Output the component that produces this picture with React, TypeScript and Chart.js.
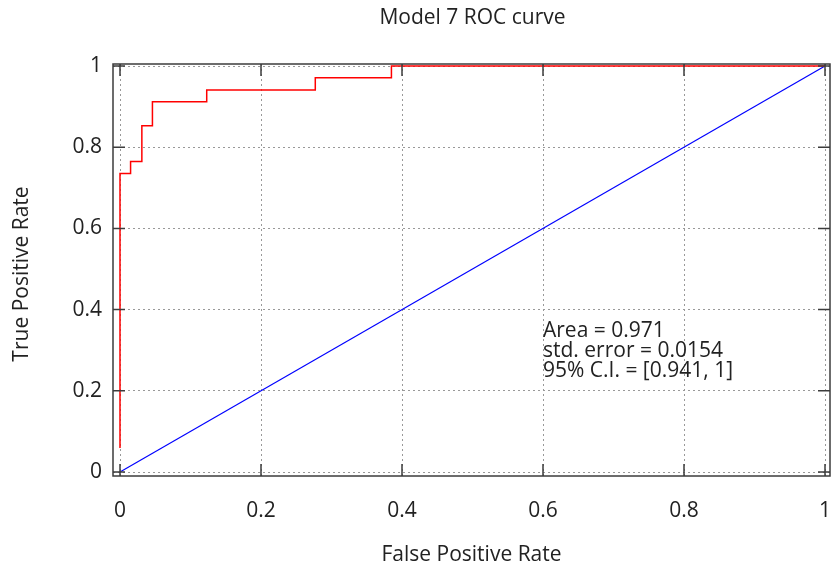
import React, { useEffect, useRef } from 'react';
import { Chart, registerables } from 'chart.js';

Chart.register(...registerables);

const chartTitle = 'Model 7 ROC curve';
const xAxisTitle = 'False Positive Rate';
const yAxisTitle = 'True Positive Rate';
const tickValues = [0, 0.2, 0.4, 0.6, 0.8, 1];
const tickLabels = ['0', '0.2', '0.4', '0.6', '0.8', '1'];
const rocFpr = [0, 0, 0.015, 0.015, 0.031, 0.031, 0.046, 0.046, 0.123, 0.123, 0.277, 0.277, 0.385, 0.385, 1];
const rocTpr = [0.059, 0.735, 0.735, 0.765, 0.765, 0.853, 0.853, 0.912, 0.912, 0.941, 0.941, 0.971, 0.971, 1, 1];
const diagFpr = [0, 1];
const diagTpr = [0, 1];
const annotationLines = ['Area = 0.971', 'std. error = 0.0154', '95% C.I. = [0.941, 1]'];
const annotationAt = { x: 0.6, y: 0.333 };

const FONT = '"Open Sans", sans-serif';
const TEXT_COLOR = '#222';

const framePlugin = {
  id: 'frame',
  afterDatasetsDraw(chart: any) {
    const { ctx, chartArea: a, scales } = chart;
    ctx.save();
    ctx.strokeStyle = '#3c3c3c';
    ctx.lineWidth = 1.5;
    ctx.strokeRect(a.left, a.top, a.right - a.left, a.bottom - a.top);
    ctx.beginPath();
    tickValues.forEach((v) => {
      const x = scales.x.getPixelForValue(v);
      ctx.moveTo(x, a.bottom);
      ctx.lineTo(x, a.bottom - 12);
      ctx.moveTo(x, a.top);
      ctx.lineTo(x, a.top + 12);
      const y = scales.y.getPixelForValue(v);
      ctx.moveTo(a.left, y);
      ctx.lineTo(a.left + 12, y);
      ctx.moveTo(a.right, y);
      ctx.lineTo(a.right - 12, y);
    });
    ctx.stroke();

    ctx.fillStyle = TEXT_COLOR;
    ctx.font = `21px ${FONT}`;
    ctx.textAlign = 'center';
    ctx.textBaseline = 'alphabetic';
    const cx = (a.left + a.right) / 2;
    ctx.fillText(chartTitle, cx + 1, 24);
    ctx.fillText(xAxisTitle, cx, 561);

    ctx.save();
    ctx.translate(28, (a.top + a.bottom) / 2 + 4);
    ctx.rotate(-Math.PI / 2);
    ctx.fillText(yAxisTitle, 0, 0);
    ctx.restore();

    ctx.textAlign = 'left';
    const ax = scales.x.getPixelForValue(annotationAt.x);
    const ay = scales.y.getPixelForValue(annotationAt.y);
    annotationLines.forEach((line, i) => {
      ctx.fillText(line, ax, ay + i * 20);
    });
    ctx.restore();
  },
};

const labelFor = (v: number) => {
  const i = tickValues.indexOf(v);
  return i >= 0 ? tickLabels[i] : '';
};

export default function App() {
  const canvasRef = useRef<HTMLCanvasElement | null>(null);

  useEffect(() => {
    const canvas = canvasRef.current;
    if (!canvas) return;
    const chart = new Chart(canvas, {
      type: 'scatter',
      data: {
        datasets: [
          {
            label: 'ROC',
            data: rocFpr.map((x, i) => ({ x, y: rocTpr[i] })),
            showLine: true,
            borderColor: '#ff0000',
            backgroundColor: '#ff0000',
            borderWidth: 1.5,
            pointRadius: 0,
            fill: false,
          },
          {
            label: 'Chance',
            data: diagFpr.map((x, i) => ({ x, y: diagTpr[i] })),
            showLine: true,
            borderColor: '#0000ff',
            backgroundColor: '#0000ff',
            borderWidth: 1.2,
            pointRadius: 0,
            fill: false,
          },
        ],
      },
      options: {
        responsive: false,
        animation: false,
        layout: { padding: { top: 64, right: 1, left: 0, bottom: 0 } },
        plugins: {
          legend: { display: false },
          tooltip: { enabled: false },
          title: { display: false },
        },
        scales: {
          x: {
            type: 'linear',
            min: -0.00993,
            max: 1.00709,
            afterBuildTicks: (scale: any) => {
              scale.ticks = tickValues.map((v) => ({ value: v }));
            },
            afterFit: (scale: any) => {
              scale.height = 90;
              scale.paddingLeft = 0;
              scale.paddingRight = 0;
            },
            grid: { color: '#999', lineWidth: 1, drawTicks: false },
            border: { display: false, dash: [2, 3] },
            ticks: {
              padding: 22,
              color: TEXT_COLOR,
              font: { family: FONT, size: 21 },
              maxRotation: 0,
              callback: (v: any) => labelFor(Number(v)),
            },
          },
          y: {
            type: 'linear',
            min: -0.00985,
            max: 1.00493,
            afterBuildTicks: (scale: any) => {
              scale.ticks = tickValues.map((v) => ({ value: v }));
            },
            afterFit: (scale: any) => {
              scale.width = 113;
              scale.paddingTop = 0;
              scale.paddingBottom = 0;
            },
            grid: { color: '#999', lineWidth: 1, drawTicks: false },
            border: { display: false, dash: [2, 3] },
            ticks: {
              padding: 11,
              color: TEXT_COLOR,
              font: { family: FONT, size: 21 },
              callback: (v: any) => labelFor(Number(v)),
            },
          },
        },
      },
      plugins: [framePlugin],
    });
    return () => chart.destroy();
  }, []);

  return (
    <div style={{ position: 'fixed', left: 0, top: 0, width: 831, height: 566, background: '#fff' }}>
      <canvas ref={canvasRef} width={831} height={566} />
    </div>
  );
}
